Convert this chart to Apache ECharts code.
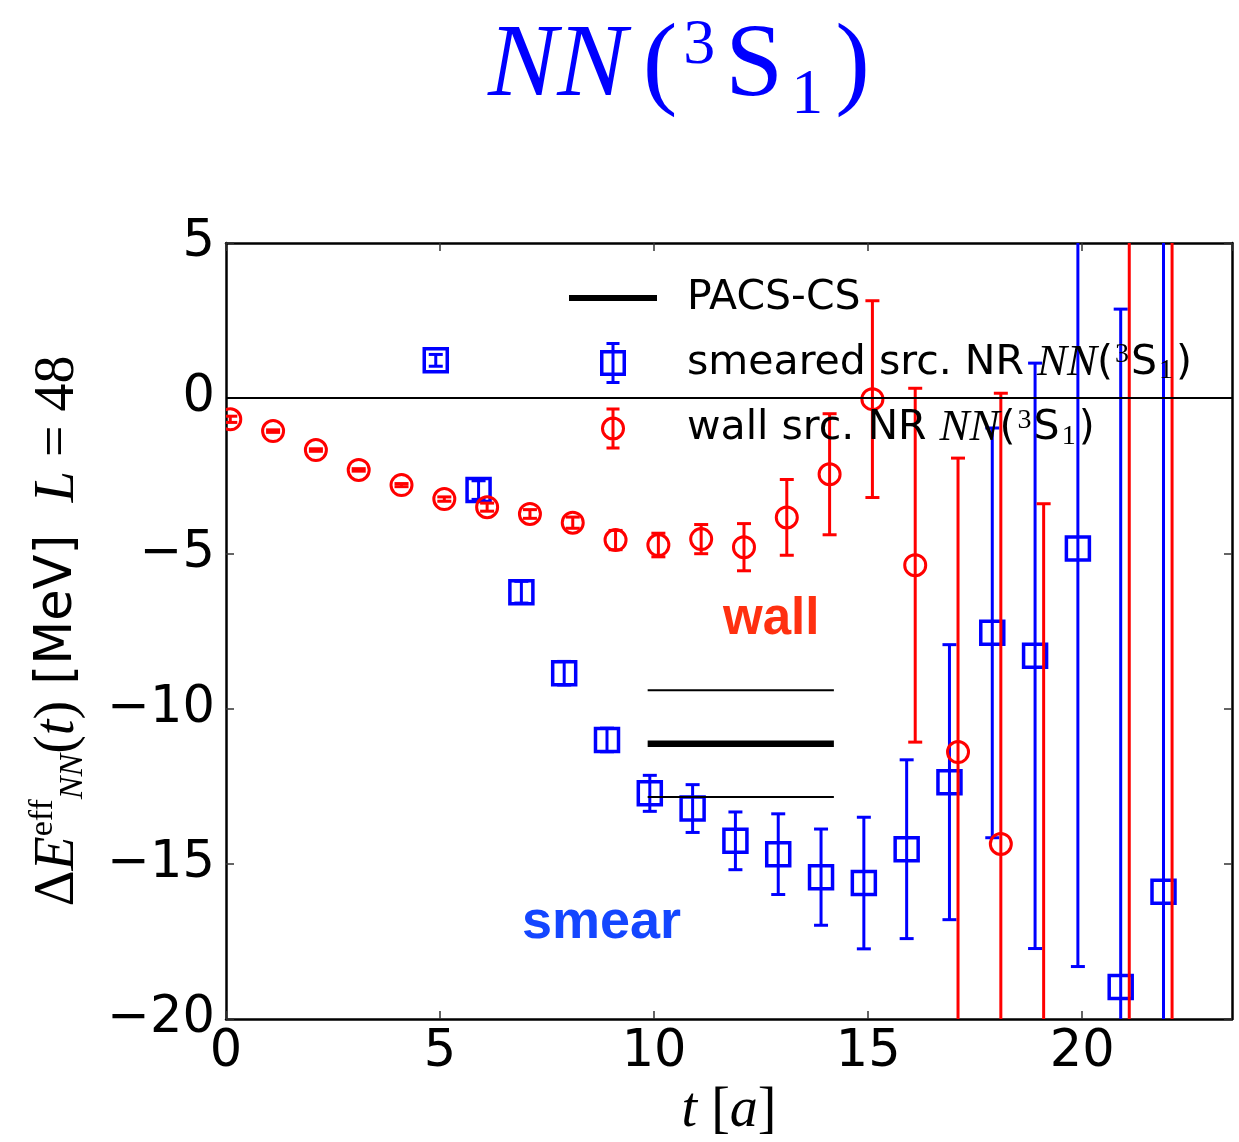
<!DOCTYPE html>
<html>
<head>
<meta charset="utf-8">
<script src="https://cdn.jsdelivr.net/npm/echarts@6/dist/echarts.min.js"></script>
<style>
  html, body { margin: 0; padding: 0; background: #ffffff; }
  #chart { width: 1239px; height: 1142px; }
</style>
</head>
<body>
<div id="chart"></div>
<script>
// Effective energy shift, wall source: time slice, value [MeV], error [MeV]
const tWall   = [0, 1, 2, 3, 4, 5, 6, 7, 8, 9, 10, 11, 12, 13, 14, 15, 16, 17, 18, 19, 21, 22];
const wallVal = [-0.68, -1.06, -1.67, -2.31, -2.80, -3.25, -3.51, -3.73, -4.01, -4.57, -4.73, -4.54,
                 -4.80, -3.84, -2.45, -0.03, -5.38, -11.40, -14.36, -24.0, -30.0, -35.0];
const wallErr = [0.10, 0.04, 0.04, 0.04, 0.05, 0.07, 0.13, 0.14, 0.18, 0.31, 0.38, 0.47,
                 0.76, 1.22, 1.95, 3.17, 5.70, 9.47, 14.52, 20.6, 40.0, 45.0];

// Effective energy shift, smeared source
const tSmear   = [5, 6, 7, 8, 9, 10, 11, 12, 13, 14, 15, 16, 17, 18, 19, 20, 21, 22];
const smearVal = [1.22, -2.96, -6.25, -8.86, -11.01, -12.73, -13.22, -14.26, -14.69, -15.43,
                  -15.62, -14.53, -12.37, -7.56, -8.30, -4.84, -18.97, -15.90];
const smearErr = [0.19, 0.30, 0.35, 0.38, 0.38, 0.58, 0.77, 0.93, 1.30, 1.55,
                  2.12, 2.88, 4.43, 6.60, 9.43, 13.47, 21.84, 25.0];

// PACS-CS reference value: time range, central value, error
const pacsT = [9.85, 14.2];
const pacsVal = -11.13;
const pacsErr = 1.72;

// Axis ranges and ticks
const xRange = [0, 23.5];
const yRange = [-20, 5];
const tickStep = 5;

const BLUE = '#0000ff';
const RED = '#ff0000';
// horizontal offsets so the two sets do not sit on top of each other
const smearShift = -0.1;
const wallShift = 0.1;

function errorBarRenderer(shift, marker, color) {
  return function (params, api) {
    const t = api.value(0) + shift;
    const v = api.value(1);
    const e = api.value(2);
    const c = api.coord([t, v]);
    const hi = api.coord([t, v + e]);
    const lo = api.coord([t, v - e]);
    const cap = 7;
    const lw = 3;
    const children = [
      { type: 'line', shape: { x1: c[0], y1: hi[1], x2: c[0], y2: lo[1] }, style: { stroke: color, lineWidth: lw } },
      { type: 'line', shape: { x1: c[0] - cap, y1: hi[1], x2: c[0] + cap, y2: hi[1] }, style: { stroke: color, lineWidth: lw } },
      { type: 'line', shape: { x1: c[0] - cap, y1: lo[1], x2: c[0] + cap, y2: lo[1] }, style: { stroke: color, lineWidth: lw } }
    ];
    if (marker === 'circle') {
      children.push({ type: 'circle', shape: { cx: c[0], cy: c[1], r: 10.5 }, style: { fill: 'none', stroke: color, lineWidth: 3 } });
    } else {
      children.push({ type: 'rect', shape: { x: c[0] - 11.5, y: c[1] - 11.5, width: 23, height: 23 }, style: { fill: 'none', stroke: color, lineWidth: 3.5 } });
    }
    return { type: 'group', children: children };
  };
}

const minus = v => (v < 0 ? '\u2212' + Math.abs(v) : String(v));

// legend glyphs: square / circle with an error bar, and a thick line
const iconSquare = 'path://M0,8 L26,8 L26,34 L0,34 Z M3.5,11.5 L3.5,30.5 L22.5,30.5 L22.5,11.5 Z ' +
  'M11.5,0 L14.5,0 L14.5,42 L11.5,42 Z M6.5,0 L19.5,0 L19.5,3 L6.5,3 Z M6.5,39 L19.5,39 L19.5,42 L6.5,42 Z';
const iconCircle = 'path://M1,21 A12,12 0 1,1 25,21 A12,12 0 1,1 1,21 Z M4,21 A9,9 0 1,0 22,21 A9,9 0 1,0 4,21 Z ' +
  'M11.5,0 L14.5,0 L14.5,42 L11.5,42 Z M6.5,0 L19.5,0 L19.5,3 L6.5,3 Z M6.5,39 L19.5,39 L19.5,42 L6.5,42 Z';
const iconLine = 'path://M0,0 L88,0 L88,6 L0,6 Z';

const nameSmear = 'smeared src. NR NN(³S₁)';
const nameWall = 'wall src. NR NN(³S₁)';
const namePacs = 'PACS-CS';

const serif = 'Liberation Serif';
const sans = 'DejaVu Sans';

const chart = echarts.init(document.getElementById('chart'), null, { renderer: 'canvas' });

const axisCommon = {
  type: 'value',
  interval: tickStep,
  axisLine: { show: true, onZero: false, lineStyle: { color: '#000', width: 2.5 } },
  axisTick: { show: true, inside: true, length: 8, lineStyle: { color: '#333', width: 1.5 } },
  splitLine: { show: false }
};

const titleStyle = (size, extra) => Object.assign({ fontFamily: serif, fontSize: size, fontWeight: 'normal', color: BLUE, lineHeight: 120 }, extra || {});

chart.setOption({
  animation: false,
  backgroundColor: '#ffffff',
  title: {
    left: 488,
    top: 8,
    padding: 0,
    text: '{it|NN}{rm|(}{sup|3}{rm|S}{sub|1}{rm|)}',
    textStyle: {
      color: BLUE,
      fontWeight: 'normal',
      rich: {
        it: titleStyle(104, { fontStyle: 'italic', padding: [0, 14, 0, 0] }),
        rm: titleStyle(104, { padding: [0, 2, 0, 2] }),
        sup: titleStyle(64, { verticalAlign: 'top', padding: [6, 8, 0, 4] }),
        sub: titleStyle(64, { verticalAlign: 'bottom', padding: [0, 10, 0, 6] })
      }
    }
  },
  grid: { left: 226, right: 7, top: 243, bottom: 123, containLabel: false, outerBoundsMode: 'none' },
  legend: {
    orient: 'vertical',
    left: 564,
    top: 271,
    itemWidth: 88,
    itemHeight: 42,
    itemGap: 20.5,
    symbolKeepAspect: true,
    selectedMode: false,
    itemStyle: { borderWidth: 0 },
    data: [
      { name: namePacs, icon: iconLine, itemStyle: { color: '#000' } },
      { name: nameSmear, icon: iconSquare, itemStyle: { color: BLUE } },
      { name: nameWall, icon: iconCircle, itemStyle: { color: RED } }
    ],
    formatter: n => n.replace('NN(³S₁)', '{it|NN}({sup|3}S{sub|1})'),
    textStyle: {
      fontFamily: sans,
      fontSize: 41,
      color: '#000',
      lineHeight: 44,
      padding: [0, 0, 0, 25],
      rich: {
        it: { fontFamily: serif, fontStyle: 'italic', fontSize: 45, color: '#000', lineHeight: 44 },
        sup: { fontFamily: serif, fontSize: 28, color: '#000', verticalAlign: 'top', lineHeight: 44, padding: [0, 2, 0, 2] },
        sub: { fontFamily: serif, fontSize: 28, color: '#000', verticalAlign: 'bottom', lineHeight: 44, padding: [0, 3, 0, 2] }
      }
    }
  },
  xAxis: [
    Object.assign({}, axisCommon, {
      min: xRange[0], max: xRange[1], position: 'bottom',
      name: '{it|t}{rm| [}{it|a}{rm|]}',
      nameLocation: 'middle',
      nameGap: 64,
      nameTextStyle: {
        rich: {
          it: { fontFamily: serif, fontStyle: 'italic', fontSize: 56, color: '#000' },
          rm: { fontFamily: serif, fontSize: 56, color: '#000' }
        }
      },
      axisLabel: { show: true, showMaxLabel: false, fontFamily: sans, fontSize: 51, color: '#000', margin: 8 }
    }),
    Object.assign({}, axisCommon, {
      min: xRange[0], max: xRange[1], position: 'top',
      axisLabel: { show: false }
    })
  ],
  yAxis: [
    Object.assign({}, axisCommon, {
      min: yRange[0], max: yRange[1], position: 'left',
      name: '{rm|Δ}{it|E}{sup|eff}{sub|NN}{rm|(}{it|t}{rm|)}{ss| [MeV]  }{it|L}{rm| = 48}',
      nameLocation: 'middle',
      nameGap: 136,
      nameRotate: 90,
      nameTextStyle: {
        rich: {
          rm: { fontFamily: serif, fontSize: 56, color: '#000', lineHeight: 64 },
          it: { fontFamily: serif, fontStyle: 'italic', fontSize: 56, color: '#000', lineHeight: 64 },
          ss: { fontFamily: sans, fontSize: 51, color: '#000', lineHeight: 64 },
          sup: { fontFamily: serif, fontSize: 34, color: '#000', verticalAlign: 'top', lineHeight: 64 },
          sub: { fontFamily: serif, fontStyle: 'italic', fontSize: 34, color: '#000', verticalAlign: 'bottom', lineHeight: 64 }
        }
      },
      axisLabel: { show: true, fontFamily: sans, fontSize: 51, color: '#000', margin: 11, formatter: minus }
    }),
    Object.assign({}, axisCommon, {
      min: yRange[0], max: yRange[1], position: 'right',
      axisLabel: { show: false }
    })
  ],
  graphic: [
    { type: 'text', left: 723, top: 594, style: { text: 'wall', font: 'bold 51px "Liberation Sans"', fill: '#ff3010' } },
    { type: 'text', left: 522, top: 896, style: { text: 'smear', font: 'bold 54px "Liberation Sans"', fill: '#1446ff' } }
  ],
  series: [
    {
      name: nameSmear,
      type: 'custom',
      clip: true,
      itemStyle: { color: BLUE },
      renderItem: errorBarRenderer(smearShift, 'rect', BLUE),
      encode: { x: 0, y: 1 },
      data: tSmear.map((t, i) => [t, smearVal[i], smearErr[i]])
    },
    {
      name: nameWall,
      type: 'custom',
      clip: true,
      itemStyle: { color: RED },
      renderItem: errorBarRenderer(wallShift, 'circle', RED),
      encode: { x: 0, y: 1 },
      data: tWall.map((t, i) => [t, wallVal[i], wallErr[i]])
    },
    {
      name: namePacs,
      type: 'line',
      symbol: 'none',
      silent: true,
      color: '#000',
      lineStyle: { color: '#000', width: 6.5 },
      data: pacsT.map(t => [t, pacsVal]),
      markLine: {
        silent: true,
        symbol: 'none',
        label: { show: false },
        lineStyle: { color: '#000', width: 2, type: 'solid' },
        data: [{ yAxis: 0 }]
      }
    },
    {
      name: namePacs,
      type: 'line',
      symbol: 'none',
      silent: true,
      color: '#000',
      lineStyle: { color: '#000', width: 2 },
      data: pacsT.map(t => [t, pacsVal + pacsErr])
    },
    {
      name: namePacs,
      type: 'line',
      symbol: 'none',
      silent: true,
      color: '#000',
      lineStyle: { color: '#000', width: 2 },
      data: pacsT.map(t => [t, pacsVal - pacsErr])
    }
  ]
});
</script>
</body>
</html>
